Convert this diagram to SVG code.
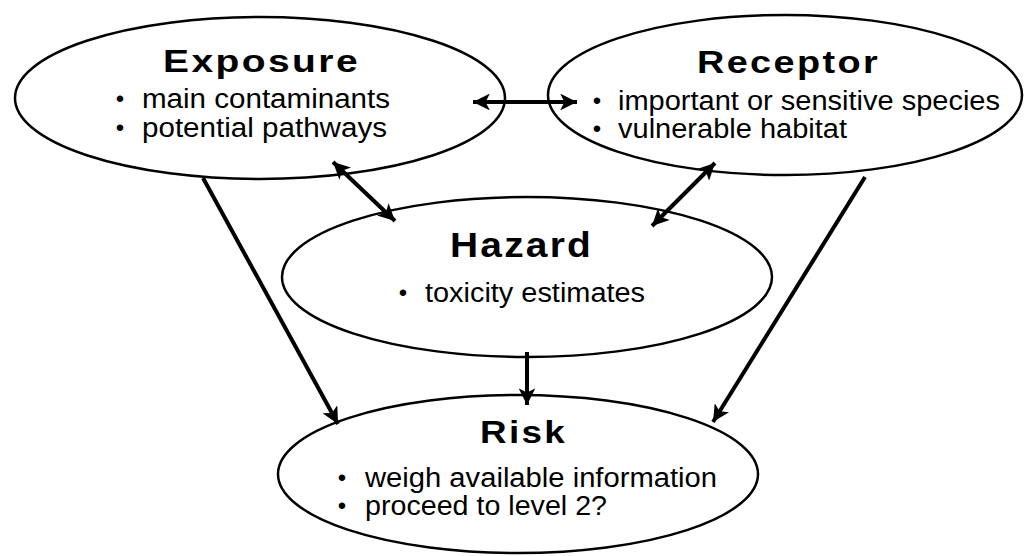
<svg xmlns="http://www.w3.org/2000/svg" width="1032" height="556" viewBox="0 0 1032 556">
<style>
.node ellipse{fill:#fff;stroke:#000;stroke-width:2.5}
.title{font-family:"Liberation Sans",Arial,sans-serif;font-weight:bold;font-size:32px;letter-spacing:2px;fill:#000}
.item{font-family:"Liberation Sans",Arial,sans-serif;font-size:27px;fill:#000}
.bul{font-family:"Liberation Sans",Arial,sans-serif;font-size:24px;fill:#000;text-anchor:middle}
.conn line{stroke:#000;stroke-width:4}
</style>
<defs>
<marker id="ah" viewBox="0 0 10 10" refX="10" refY="5" markerWidth="6" markerHeight="4.2" markerUnits="strokeWidth" orient="auto-start-reverse">
<path d="M0,0 L10,5 L0,10 L2.5,5 z" fill="#000"/>
</marker>
</defs>
<rect width="1032" height="556" fill="#fff"/>
<g id="exposure" class="node">
<ellipse cx="260" cy="98" rx="245" ry="81"/>
<text class="title" x="163" y="72" textLength="197" lengthAdjust="spacingAndGlyphs">Exposure</text>
<text class="bul" x="120" y="107">•</text>
<text class="item" x="142" y="108" textLength="248" lengthAdjust="spacingAndGlyphs">main contaminants</text>
<text class="bul" x="120" y="136">•</text>
<text class="item" x="142" y="137" textLength="245" lengthAdjust="spacingAndGlyphs">potential pathways</text>
</g>
<g id="receptor" class="node">
<ellipse cx="785" cy="95" rx="237" ry="80"/>
<text class="title" x="697" y="73" textLength="183" lengthAdjust="spacingAndGlyphs">Receptor</text>
<text class="bul" x="597" y="109">•</text>
<text class="item" x="618" y="110" textLength="382" lengthAdjust="spacingAndGlyphs">important or sensitive species</text>
<text class="bul" x="597" y="137">•</text>
<text class="item" x="618" y="138" textLength="229" lengthAdjust="spacingAndGlyphs">vulnerable habitat</text>
</g>
<g id="hazard" class="node">
<ellipse cx="527" cy="277" rx="245" ry="80"/>
<text class="title" x="450" y="257" style="font-size:35px" textLength="143" lengthAdjust="spacingAndGlyphs">Hazard</text>
<text class="bul" x="403" y="301">•</text>
<text class="item" x="425" y="302" textLength="220" lengthAdjust="spacingAndGlyphs">toxicity estimates</text>
</g>
<g id="risk" class="node">
<ellipse cx="518" cy="474" rx="240" ry="79"/>
<text class="title" x="480" y="443" textLength="87" lengthAdjust="spacingAndGlyphs">Risk</text>
<text class="bul" x="342" y="486">•</text>
<text class="item" x="365" y="487" textLength="352" lengthAdjust="spacingAndGlyphs">weigh available information</text>
<text class="bul" x="342" y="514">•</text>
<text class="item" x="365" y="515" textLength="242" lengthAdjust="spacingAndGlyphs">proceed to level 2?</text>
</g>
<g id="connectors" class="conn">
<line x1="473" y1="102" x2="577" y2="102" marker-start="url(#ah)" marker-end="url(#ah)"/>
<line x1="333" y1="162" x2="395" y2="221" marker-start="url(#ah)" marker-end="url(#ah)"/>
<line x1="715" y1="163" x2="652" y2="226" marker-start="url(#ah)" marker-end="url(#ah)"/>
<line x1="203" y1="178" x2="338" y2="424" marker-end="url(#ah)"/>
<line x1="865" y1="177" x2="713" y2="422" marker-end="url(#ah)"/>
<line x1="527" y1="352" x2="527" y2="405" marker-end="url(#ah)"/>
</g>
</svg>
